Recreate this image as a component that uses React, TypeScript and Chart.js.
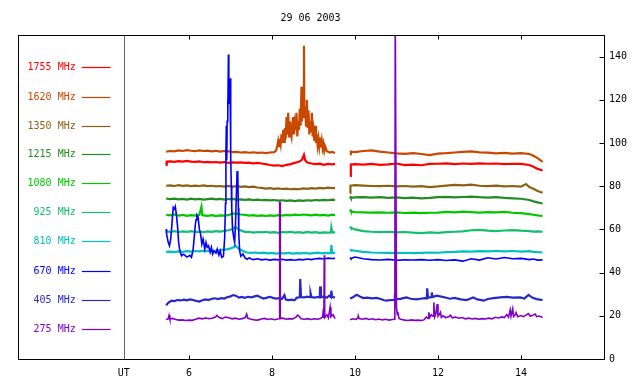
import React, { useEffect, useRef } from "react";
import { Chart, registerables } from "chart.js";

Chart.register(...registerables);

type P = [number, number];

const TITLE = "29 06 2003";
const UT_LABEL = "UT";
const UT_POS = 4.43;
const X_TICKS = [6, 8, 10, 12, 14];
const Y_TICKS = [0, 20, 40, 60, 80, 100, 120, 140];
const GAP_X = 9.7;

const FREQS = ["1755 MHz", "1620 MHz", "1350 MHz", "1215 MHz", "1080 MHz", "925 MHz", "810 MHz", "670 MHz", "405 MHz", "275 MHz"];
const COLORS = ["#ff0000", "#c84800", "#8a6212", "#228b22", "#00c800", "#10c070", "#00c0c0", "#0000ff", "#2828c8", "#8000c8"];

// ---- series values [UT hour, value] ----
const S1755_A: P[] = [[5.45, 91.0], [5.46, 89.5], [5.47, 91.4], [5.55, 91.5], [5.65, 91.3], [5.75, 91.6], [5.85, 91.4], [5.95, 91.7], [6.05, 91.4], [6.15, 91.3], [6.25, 91.5], [6.35, 91.1], [6.45, 91.3], [6.55, 91.0], [6.65, 91.2], [6.75, 90.9], [6.85, 91.2], [6.95, 90.8], [7.05, 91.0], [7.15, 90.9], [7.25, 91.0], [7.35, 90.8], [7.45, 90.9], [7.55, 90.6], [7.65, 90.8], [7.75, 90.5], [7.85, 90.2], [7.95, 89.8], [8.05, 89.5], [8.15, 89.7], [8.25, 89.3], [8.35, 89.9], [8.45, 90.2], [8.55, 90.8], [8.65, 91.3], [8.72, 92.2], [8.77, 94.5], [8.8, 92.0], [8.85, 91.0], [8.95, 90.5], [9.05, 90.2], [9.15, 90.4], [9.25, 89.9], [9.35, 90.3], [9.45, 90.1], [9.52, 90.3]];
const S1755_B: P[] = [[9.88, 84.8], [9.9, 90.0], [10.0, 90.2], [10.2, 90.0], [10.4, 90.3], [10.6, 89.9], [10.8, 90.1], [11.0, 90.5], [11.2, 89.8], [11.4, 90.0], [11.6, 89.7], [11.8, 90.3], [12.0, 90.4], [12.2, 90.6], [12.4, 90.2], [12.6, 90.5], [12.8, 90.3], [13.0, 90.6], [13.2, 90.4], [13.4, 90.5], [13.6, 90.2], [13.8, 90.4], [14.0, 90.3], [14.2, 89.8], [14.3, 89.0], [14.4, 88.0], [14.52, 87.3]];

const S1620_A: P[] = [[5.45, 96.0], [5.55, 96.3], [5.65, 96.1], [5.75, 96.6], [5.85, 96.3], [5.95, 96.7], [6.05, 96.4], [6.15, 96.2], [6.25, 96.6], [6.35, 96.3], [6.45, 96.5], [6.55, 96.1], [6.65, 96.4], [6.75, 96.0], [6.85, 96.3], [6.95, 96.1], [7.05, 95.8], [7.15, 95.9], [7.25, 95.6], [7.35, 95.8], [7.45, 95.5], [7.55, 95.7], [7.65, 95.4], [7.75, 95.6], [7.85, 95.3], [7.95, 95.6], [8.05, 95.8], [8.1, 96.5], [8.13, 99], [8.15, 101], [8.17, 98.5], [8.19, 102], [8.21, 99.5], [8.23, 104], [8.25, 100], [8.27, 106], [8.29, 100.5], [8.31, 107], [8.33, 102], [8.35, 112], [8.37, 104], [8.39, 114], [8.41, 103], [8.43, 110], [8.45, 105], [8.47, 103], [8.49, 109], [8.51, 112], [8.53, 104], [8.55, 109], [8.57, 106], [8.59, 114], [8.61, 103], [8.63, 110], [8.65, 106], [8.67, 116], [8.69, 108], [8.71, 126], [8.72, 110], [8.74, 119], [8.76, 112], [8.77, 145], [8.78, 113], [8.8, 117], [8.82, 108], [8.84, 120], [8.86, 107], [8.88, 115], [8.9, 104], [8.92, 110], [8.94, 105], [8.96, 114], [8.98, 103], [9.0, 106], [9.02, 101], [9.04, 108], [9.06, 100], [9.08, 104], [9.1, 99], [9.12, 102], [9.14, 98.5], [9.16, 102.5], [9.18, 98], [9.2, 101], [9.22, 97.5], [9.24, 99.5], [9.26, 96.5], [9.28, 98.5], [9.32, 96.2], [9.4, 95.6], [9.45, 95.9], [9.52, 95.4]];
const S1620_B: P[] = [[9.88, 94.8], [9.9, 96.0], [10.0, 95.8], [10.2, 96.3], [10.4, 96.6], [10.6, 96.0], [10.8, 95.6], [11.0, 95.2], [11.2, 95.0], [11.4, 95.3], [11.6, 94.9], [11.8, 94.4], [12.0, 95.1], [12.2, 95.3], [12.4, 95.6], [12.6, 95.9], [12.8, 96.1], [13.0, 95.7], [13.2, 95.5], [13.4, 95.2], [13.6, 95.4], [13.8, 95.1], [14.0, 95.3], [14.2, 94.9], [14.3, 94.1], [14.4, 93.0], [14.52, 91.3]];

const S1350_A: P[] = [[5.45, 80.2], [5.55, 80.4], [5.65, 80.1], [5.75, 80.5], [5.85, 80.2], [5.95, 80.4], [6.05, 80.0], [6.15, 80.3], [6.25, 80.1], [6.35, 80.4], [6.45, 80.0], [6.55, 80.2], [6.65, 79.9], [6.75, 80.1], [6.85, 79.8], [6.95, 80.1], [7.05, 79.8], [7.15, 80.0], [7.25, 79.7], [7.35, 79.9], [7.45, 79.6], [7.55, 79.8], [7.65, 79.4], [7.75, 79.2], [7.85, 78.9], [7.95, 79.1], [8.05, 78.8], [8.15, 79.0], [8.25, 78.7], [8.35, 78.9], [8.45, 78.6], [8.55, 78.8], [8.65, 78.6], [8.75, 79.0], [8.85, 78.8], [8.95, 79.1], [9.05, 78.9], [9.15, 79.2], [9.25, 79.0], [9.35, 79.3], [9.45, 79.1], [9.52, 79.2]];
const S1350_B: P[] = [[9.88, 76.8], [9.89, 80.2], [10.0, 80.5], [10.2, 80.3], [10.4, 80.1], [10.6, 80.0], [10.8, 80.2], [11.0, 79.9], [11.2, 80.1], [11.4, 79.8], [11.6, 80.0], [11.8, 79.6], [12.0, 79.9], [12.2, 80.3], [12.4, 80.6], [12.6, 80.4], [12.8, 80.7], [13.0, 80.2], [13.2, 80.0], [13.4, 80.3], [13.6, 79.9], [13.8, 80.1], [14.0, 79.8], [14.12, 81.0], [14.2, 79.6], [14.3, 78.8], [14.4, 77.8], [14.52, 77.0]];

const S1215_A: P[] = [[5.45, 74.3], [5.55, 74.0], [5.65, 74.2], [5.75, 73.9], [5.85, 74.1], [5.95, 73.8], [6.05, 74.2], [6.15, 73.9], [6.25, 74.1], [6.35, 73.8], [6.45, 74.0], [6.55, 74.2], [6.65, 73.9], [6.75, 74.1], [6.85, 73.8], [6.95, 74.0], [7.05, 74.1], [7.15, 73.8], [7.25, 73.9], [7.35, 73.7], [7.45, 73.9], [7.55, 73.6], [7.65, 73.8], [7.75, 73.5], [7.85, 73.7], [7.95, 73.4], [8.05, 73.6], [8.15, 73.3], [8.25, 73.5], [8.35, 73.2], [8.45, 73.4], [8.55, 73.1], [8.65, 73.4], [8.75, 73.2], [8.85, 73.5], [8.95, 73.3], [9.05, 73.6], [9.15, 73.4], [9.25, 73.7], [9.35, 73.5], [9.45, 73.8], [9.52, 73.6]];
const S1215_B: P[] = [[9.88, 75.3], [9.9, 74.6], [10.0, 74.8], [10.2, 74.9], [10.4, 74.7], [10.6, 74.9], [10.8, 74.6], [11.0, 74.8], [11.2, 74.5], [11.4, 74.7], [11.6, 74.4], [11.8, 74.6], [12.0, 74.9], [12.2, 75.1], [12.4, 74.8], [12.6, 75.0], [12.8, 75.2], [13.0, 74.9], [13.2, 74.7], [13.4, 74.9], [13.6, 74.6], [13.8, 74.4], [14.0, 74.2], [14.2, 73.6], [14.3, 73.0], [14.4, 72.5], [14.52, 72.0]];

const S1080_A: P[] = [[5.45, 66.8], [5.55, 66.5], [5.65, 66.9], [5.75, 66.4], [5.85, 66.7], [5.95, 66.3], [6.05, 66.6], [6.15, 66.4], [6.25, 66.8], [6.3, 70.5], [6.32, 66.6], [6.45, 66.3], [6.55, 66.6], [6.65, 66.2], [6.75, 66.5], [6.85, 66.4], [6.95, 66.6], [7.05, 67.4], [7.15, 67.2], [7.25, 66.9], [7.35, 66.7], [7.45, 66.4], [7.55, 66.6], [7.65, 66.3], [7.75, 66.5], [7.85, 66.2], [7.95, 66.5], [8.05, 66.3], [8.15, 66.6], [8.25, 66.4], [8.35, 66.7], [8.45, 66.5], [8.55, 66.8], [8.65, 66.6], [8.75, 66.9], [8.85, 66.7], [8.95, 66.5], [9.05, 66.8], [9.15, 66.5], [9.25, 66.7], [9.35, 66.4], [9.45, 66.8], [9.52, 66.6]];
const S1080_B: P[] = [[9.88, 69.2], [9.9, 68.4], [10.0, 68.0], [10.2, 67.9], [10.4, 67.8], [10.6, 67.9], [10.8, 67.7], [11.0, 67.9], [11.2, 67.6], [11.4, 67.8], [11.6, 67.5], [11.8, 67.7], [12.0, 67.8], [12.2, 68.1], [12.4, 67.9], [12.6, 68.2], [12.8, 68.0], [13.0, 67.8], [13.2, 68.0], [13.4, 67.9], [13.6, 68.1], [13.8, 67.7], [14.0, 67.5], [14.2, 67.1], [14.3, 66.8], [14.4, 66.5], [14.52, 66.2]];

const S925_A: P[] = [[5.45, 59.1], [5.55, 58.9], [5.65, 59.2], [5.75, 58.8], [5.85, 59.1], [5.95, 58.9], [6.05, 59.2], [6.15, 58.8], [6.25, 59.0], [6.35, 58.7], [6.45, 59.1], [6.55, 58.9], [6.65, 59.2], [6.75, 59.0], [6.85, 59.3], [6.95, 59.6], [7.05, 60.2], [7.12, 61.2], [7.2, 59.8], [7.3, 59.2], [7.35, 58.7], [7.45, 58.9], [7.55, 58.5], [7.65, 58.8], [7.75, 58.6], [7.85, 58.9], [7.95, 58.5], [8.05, 58.7], [8.15, 58.4], [8.25, 58.8], [8.35, 58.6], [8.45, 58.9], [8.55, 58.5], [8.65, 58.7], [8.75, 58.4], [8.85, 58.8], [8.95, 58.5], [9.05, 58.7], [9.15, 58.4], [9.25, 58.6], [9.35, 58.5], [9.42, 58.6], [9.43, 60.8], [9.45, 58.7], [9.52, 58.6]];
const S925_B: P[] = [[9.88, 61.3], [9.9, 60.8], [10.0, 60.0], [10.2, 59.2], [10.4, 58.9], [10.6, 58.7], [10.8, 58.9], [11.0, 58.6], [11.2, 58.8], [11.4, 58.5], [11.6, 58.3], [11.8, 58.6], [12.0, 58.4], [12.2, 58.7], [12.4, 58.9], [12.6, 59.1], [12.8, 59.6], [13.0, 59.8], [13.2, 59.4], [13.4, 59.2], [13.6, 59.5], [13.8, 59.7], [14.0, 59.4], [14.2, 59.2], [14.3, 59.0], [14.4, 59.1], [14.52, 58.9]];

const S810_A: P[] = [[5.45, 49.6], [5.55, 49.7], [5.65, 49.5], [5.75, 49.8], [5.85, 49.6], [5.95, 49.9], [6.05, 49.7], [6.15, 50.0], [6.25, 49.8], [6.35, 50.1], [6.45, 49.9], [6.55, 50.2], [6.65, 50.0], [6.75, 50.4], [6.85, 50.6], [6.95, 50.9], [7.05, 51.5], [7.12, 52.5], [7.2, 51.0], [7.3, 50.0], [7.4, 49.3], [7.5, 49.1], [7.6, 49.3], [7.7, 49.0], [7.8, 49.2], [7.9, 48.9], [8.0, 49.1], [8.1, 48.8], [8.2, 49.0], [8.3, 48.9], [8.4, 49.1], [8.5, 48.8], [8.6, 49.0], [8.7, 48.9], [8.8, 49.1], [8.9, 48.8], [9.0, 49.0], [9.1, 49.2], [9.2, 48.9], [9.3, 49.1], [9.42, 49.0], [9.43, 52.8], [9.45, 49.2], [9.52, 49.1]];
const S810_B: P[] = [[9.88, 50.6], [9.9, 50.4], [10.0, 50.1], [10.2, 49.6], [10.4, 49.3], [10.6, 49.2], [10.8, 49.1], [11.0, 49.0], [11.2, 49.2], [11.4, 49.0], [11.6, 49.1], [11.8, 49.3], [12.0, 49.2], [12.2, 49.5], [12.4, 49.6], [12.6, 49.8], [12.8, 49.7], [13.0, 49.9], [13.2, 49.8], [13.4, 50.0], [13.6, 49.8], [13.8, 50.0], [14.0, 49.7], [14.2, 49.9], [14.3, 49.6], [14.4, 49.5], [14.52, 49.3]];

const S670_A: P[] = [[5.45, 60.1], [5.46, 57.8], [5.5, 54.0], [5.53, 52.4], [5.56, 55.5], [5.58, 60.1], [5.61, 67.9], [5.62, 70.2], [5.65, 69.4], [5.67, 70.6], [5.7, 66.3], [5.73, 60.1], [5.75, 54.0], [5.78, 50.1], [5.82, 47.8], [5.86, 48.5], [5.9, 48.1], [5.94, 47.3], [5.98, 47.5], [6.02, 48.0], [6.06, 47.0], [6.1, 50.9], [6.13, 57.0], [6.15, 61.7], [6.17, 64.5], [6.19, 66.6], [6.22, 65.6], [6.25, 60.1], [6.28, 57.8], [6.31, 53.2], [6.34, 55.5], [6.38, 50.9], [6.41, 54.0], [6.44, 51.7], [6.47, 52.4], [6.51, 49.4], [6.54, 51.7], [6.57, 48.6], [6.6, 50.1], [6.65, 49.0], [6.68, 50.9], [6.72, 48.1], [6.75, 50.1], [6.79, 47.0], [6.83, 47.5], [6.86, 56], [6.88, 72], [6.89, 95], [6.9, 108], [6.91, 92], [6.92, 110], [6.93, 120], [6.94, 112], [6.95, 141], [6.96, 118], [6.97, 128], [6.98, 124], [6.99, 130], [7.0, 110], [7.01, 94], [7.02, 80], [7.03, 70], [7.05, 60], [7.08, 56], [7.1, 54], [7.12, 62], [7.14, 75], [7.16, 87], [7.17, 80], [7.18, 86], [7.19, 70], [7.2, 58], [7.22, 50], [7.25, 47.5], [7.3, 48.6], [7.35, 46.8], [7.4, 46.2], [7.45, 46.8], [7.5, 46.3], [7.55, 46.0], [7.65, 46.4], [7.75, 45.9], [7.85, 46.2], [7.95, 45.8], [8.05, 46.1], [8.15, 45.9], [8.25, 46.2], [8.35, 45.8], [8.45, 46.0], [8.55, 45.7], [8.65, 46.1], [8.75, 45.9], [8.85, 46.3], [8.95, 46.0], [9.05, 46.4], [9.15, 46.6], [9.25, 46.3], [9.35, 46.7], [9.45, 46.5], [9.52, 46.6]];
const S670_B: P[] = [[9.88, 47.0], [9.9, 46.5], [10.0, 47.2], [10.2, 46.4], [10.4, 46.0], [10.6, 45.8], [10.8, 46.1], [11.0, 45.7], [11.2, 45.9], [11.4, 45.8], [11.6, 46.0], [11.8, 45.7], [12.0, 46.0], [12.2, 45.6], [12.4, 45.9], [12.6, 45.3], [12.8, 46.4], [13.0, 45.8], [13.2, 46.9], [13.4, 46.3], [13.6, 47.0], [13.8, 46.4], [14.0, 46.6], [14.2, 46.0], [14.3, 46.3], [14.4, 45.8], [14.52, 45.9]];

const S405_A: P[] = [[5.45, 24.8], [5.48, 25.6], [5.52, 26.3], [5.58, 27.0], [5.65, 26.8], [5.72, 27.3], [5.8, 27.1], [5.88, 27.5], [5.95, 27.2], [6.02, 27.6], [6.1, 27.3], [6.17, 26.9], [6.25, 26.6], [6.32, 27.2], [6.4, 27.6], [6.47, 27.3], [6.55, 27.9], [6.62, 28.1], [6.7, 27.7], [6.78, 28.2], [6.85, 28.0], [6.92, 28.6], [7.0, 29.0], [7.07, 29.6], [7.14, 29.2], [7.2, 28.4], [7.27, 28.7], [7.34, 28.3], [7.42, 28.8], [7.5, 28.5], [7.58, 29.0], [7.65, 29.3], [7.72, 28.6], [7.8, 28.0], [7.88, 28.4], [7.95, 28.8], [8.02, 28.3], [8.1, 28.0], [8.17, 28.2], [8.24, 27.8], [8.3, 29.6], [8.33, 27.5], [8.4, 27.3], [8.47, 27.5], [8.54, 27.2], [8.6, 28.4], [8.67, 28.6], [8.68, 37.0], [8.7, 28.7], [8.77, 28.5], [8.84, 28.9], [8.92, 28.6], [8.93, 30.4], [8.95, 28.7], [9.02, 28.4], [9.1, 28.7], [9.15, 28.5], [9.16, 33.6], [9.18, 28.6], [9.25, 29.0], [9.32, 28.4], [9.38, 29.3], [9.42, 28.6], [9.43, 31.6], [9.45, 28.7], [9.52, 28.5]];
const S405_B: P[] = [[9.88, 28.0], [9.95, 28.6], [10.04, 29.7], [10.12, 28.9], [10.2, 28.2], [10.3, 28.4], [10.4, 28.1], [10.52, 28.3], [10.62, 27.8], [10.7, 27.2], [10.76, 27.0], [10.85, 27.3], [10.95, 27.4], [10.96, 30.0], [10.98, 28.0], [11.08, 27.7], [11.16, 28.2], [11.24, 28.5], [11.34, 27.9], [11.48, 27.6], [11.58, 27.9], [11.68, 28.2], [11.73, 28.0], [11.74, 32.7], [11.76, 28.4], [11.84, 28.6], [11.85, 30.8], [11.87, 28.7], [11.97, 29.3], [12.05, 29.0], [12.15, 28.6], [12.29, 27.9], [12.4, 28.3], [12.55, 27.6], [12.69, 27.3], [12.77, 27.9], [12.85, 28.5], [12.95, 27.6], [13.1, 27.0], [13.2, 27.8], [13.34, 28.2], [13.5, 28.5], [13.66, 28.8], [13.8, 28.4], [13.98, 28.5], [14.08, 28.0], [14.18, 29.7], [14.28, 28.3], [14.38, 27.7], [14.45, 27.5], [14.52, 27.3]];

const S275_A: P[] = [[5.45, 18.3], [5.5, 18.6], [5.52, 20.2], [5.54, 18.5], [5.6, 18.8], [5.68, 18.3], [5.76, 18.0], [5.84, 18.1], [5.92, 17.8], [6.0, 18.0], [6.08, 17.9], [6.16, 18.4], [6.24, 18.9], [6.32, 18.6], [6.4, 19.0], [6.48, 18.7], [6.56, 18.9], [6.64, 19.4], [6.67, 20.2], [6.72, 19.3], [6.8, 18.7], [6.88, 19.4], [6.96, 19.1], [7.04, 18.6], [7.12, 18.9], [7.2, 18.4], [7.28, 18.7], [7.36, 19.2], [7.39, 20.8], [7.42, 18.8], [7.5, 18.4], [7.58, 18.1], [7.66, 18.0], [7.74, 18.5], [7.82, 18.8], [7.9, 18.3], [7.98, 18.6], [8.06, 18.2], [8.14, 18.5], [8.18, 18.6], [8.185, 72.5], [8.195, 72.5], [8.2, 18.8], [8.26, 18.9], [8.34, 18.4], [8.42, 18.7], [8.5, 18.5], [8.58, 19.4], [8.62, 20.3], [8.66, 19.7], [8.7, 18.6], [8.78, 18.4], [8.86, 18.7], [8.94, 18.3], [9.02, 18.6], [9.1, 18.4], [9.18, 18.8], [9.22, 19.5], [9.24, 23.4], [9.25, 19.0], [9.26, 48.0], [9.27, 19.2], [9.32, 20.5], [9.36, 19.0], [9.4, 24.0], [9.42, 19.5], [9.47, 20.5], [9.52, 18.7]];
const S275_B: P[] = [[9.88, 18.2], [9.95, 18.6], [10.02, 18.3], [10.07, 19.0], [10.08, 20.0], [10.1, 18.7], [10.18, 18.4], [10.26, 18.8], [10.34, 18.3], [10.42, 18.6], [10.5, 18.2], [10.58, 18.5], [10.66, 18.1], [10.74, 18.4], [10.82, 18.0], [10.9, 18.3], [10.96, 18.4], [10.97, 160], [10.985, 160], [11.0, 23.9], [11.02, 20.5], [11.03, 21.8], [11.06, 18.8], [11.12, 18.3], [11.2, 18.0], [11.28, 17.8], [11.36, 18.1], [11.44, 17.9], [11.52, 18.0], [11.6, 17.8], [11.66, 18.1], [11.72, 19.5], [11.76, 18.8], [11.78, 21.6], [11.8, 19.2], [11.84, 20.5], [11.88, 19.8], [11.9, 26.2], [11.92, 19.5], [11.95, 21.0], [11.98, 25.4], [12.0, 19.8], [12.04, 20.8], [12.06, 21.6], [12.08, 19.3], [12.12, 20.0], [12.18, 19.2], [12.26, 19.6], [12.3, 20.3], [12.34, 19.1], [12.42, 19.4], [12.5, 18.9], [12.58, 19.2], [12.66, 18.6], [12.74, 18.9], [12.82, 18.5], [12.9, 18.8], [12.98, 18.4], [13.06, 18.7], [13.14, 18.5], [13.22, 18.9], [13.3, 18.6], [13.38, 19.3], [13.46, 19.0], [13.54, 19.5], [13.6, 19.2], [13.66, 20.6], [13.7, 19.4], [13.74, 22.8], [13.76, 19.8], [13.8, 23.2], [13.82, 19.7], [13.86, 20.5], [13.88, 21.5], [13.92, 19.6], [14.0, 20.1], [14.06, 19.6], [14.12, 20.3], [14.18, 21.0], [14.22, 19.8], [14.28, 20.2], [14.34, 20.8], [14.38, 19.6], [14.44, 19.9], [14.52, 19.2]];

const SERIES_A = [S1755_A, S1620_A, S1350_A, S1215_A, S1080_A, S925_A, S810_A, S670_A, S405_A, S275_A];
const SERIES_B = [S1755_B, S1620_B, S1350_B, S1215_B, S1080_B, S925_B, S810_B, S670_B, S405_B, S275_B];

// ---- layout (in axis units) ----
const LEGEND_TEXT_X = 3.27;
const LEGEND_LINE_X0 = 3.42;
const LEGEND_LINE_X1 = 4.11;
const LEGEND_Y = [135.2, 121.3, 107.9, 94.7, 81.3, 67.9, 54.5, 40.6, 27.2, 13.8];

const FONT = "10px 'DejaVu Sans Mono', monospace";

const decor = {
  id: "decor",
  beforeDatasetsDraw(chart: any) {
    const { ctx, chartArea: a, scales } = chart;
    const ux = Math.round(scales.x.getPixelForValue(UT_POS)) + 0.5;
    ctx.save();
    ctx.strokeStyle = "#666666";
    ctx.lineWidth = 1;
    ctx.beginPath();
    ctx.moveTo(ux, a.top);
    ctx.lineTo(ux, a.bottom);
    ctx.stroke();
    ctx.restore();
  },
  afterDraw(chart: any) {
    const { ctx, chartArea: a, scales } = chart;
    const x = scales.x;
    const y = scales.y;
    ctx.save();
    ctx.strokeStyle = "#000";
    ctx.lineWidth = 1;
    const L = Math.round(a.left) + 0.5;
    const R = Math.round(a.right) + 0.5;
    const T = Math.round(a.top) + 0.5;
    const B = Math.round(a.bottom) + 0.5;
    ctx.strokeRect(L, T, R - L, B - T);
    ctx.beginPath();
    for (const v of X_TICKS) {
      const px = Math.round(x.getPixelForValue(v)) + 0.5;
      ctx.moveTo(px, T);
      ctx.lineTo(px, T + 4);
      ctx.moveTo(px, B);
      ctx.lineTo(px, B - 4);
    }
    for (const v of Y_TICKS) {
      const py = Math.round(y.getPixelForValue(v)) + 0.5;
      ctx.moveTo(R, py);
      ctx.lineTo(R - 5, py);
    }
    ctx.stroke();

    ctx.font = FONT;
    ctx.fillStyle = "#000";
    ctx.textAlign = "center";
    ctx.textBaseline = "middle";
    ctx.fillText(TITLE, 310.5, 18);

    ctx.textAlign = "right";
    FREQS.forEach((label, i) => {
      const py = Math.round(y.getPixelForValue(LEGEND_Y[i])) + 0.5;
      ctx.fillStyle = COLORS[i];
      ctx.fillText(label, x.getPixelForValue(LEGEND_TEXT_X), py);
      ctx.strokeStyle = COLORS[i];
      ctx.lineWidth = 1.2;
      ctx.beginPath();
      ctx.moveTo(x.getPixelForValue(LEGEND_LINE_X0), py);
      ctx.lineTo(x.getPixelForValue(LEGEND_LINE_X1), py);
      ctx.stroke();
    });
    ctx.restore();
  },
};

export default function App() {
  const ref = useRef<HTMLCanvasElement | null>(null);
  useEffect(() => {
    if (!ref.current) return;
    const toPts = (arr: P[]) => arr.map(([px, py]) => ({ x: px, y: py }));
    const datasets = FREQS.map((f, i) => ({
      label: f,
      data: [...toPts(SERIES_A[i]), { x: GAP_X, y: null as any }, ...toPts(SERIES_B[i])],
      borderColor: COLORS[i],
      backgroundColor: COLORS[i],
      borderWidth: i === 9 || i === 7 ? 1.6 : 2.2,
      pointRadius: 0,
      tension: 0,
      spanGaps: false,
      fill: false,
      order: i === 9 ? 0 : i === 7 ? 1 : 10 - i + 2,
    }));
    const chart = new Chart(ref.current, {
      type: "line",
      data: { datasets },
      options: {
        animation: false,
        responsive: false,
        maintainAspectRatio: false,
        devicePixelRatio: 1,
        layout: { padding: { left: 18, top: 35, right: 0, bottom: 0 } },
        plugins: { legend: { display: false }, tooltip: { enabled: false }, title: { display: false } },
        scales: {
          x: {
            type: "linear",
            position: "bottom",
            min: 1.88,
            max: 16.0,
            afterBuildTicks: (s: any) => {
              s.ticks = [UT_POS, ...X_TICKS].map((v) => ({ value: v }));
            },
            afterFit: (s: any) => {
              s.height = 25;
            },
            grid: { display: false, drawTicks: false },
            border: { display: false },
            ticks: {
              autoSkip: false,
              maxRotation: 0,
              padding: 8,
              color: "#000",
              font: { family: "'DejaVu Sans Mono', monospace", size: 10 },
              callback: (v: any) => (v === UT_POS ? UT_LABEL : String(v)),
            },
          },
          y: {
            type: "linear",
            position: "right",
            min: 0,
            max: 150,
            afterBuildTicks: (s: any) => {
              s.ticks = Y_TICKS.map((v) => ({ value: v }));
            },
            afterFit: (s: any) => {
              s.width = 36;
            },
            grid: { display: false, drawTicks: false },
            border: { display: false },
            ticks: {
              padding: 5,
              color: "#000",
              font: { family: "'DejaVu Sans Mono', monospace", size: 10 },
              callback: (v: any) => String(v),
            },
          },
        },
      },
      plugins: [decor],
    } as any);
    return () => chart.destroy();
  }, []);
  return (
    <div style={{ position: "absolute", left: 0, top: 0, width: 640, height: 384, background: "#fff" }}>
      <canvas ref={ref} width={640} height={384} style={{ width: 640, height: 384, display: "block" }} />
    </div>
  );
}
